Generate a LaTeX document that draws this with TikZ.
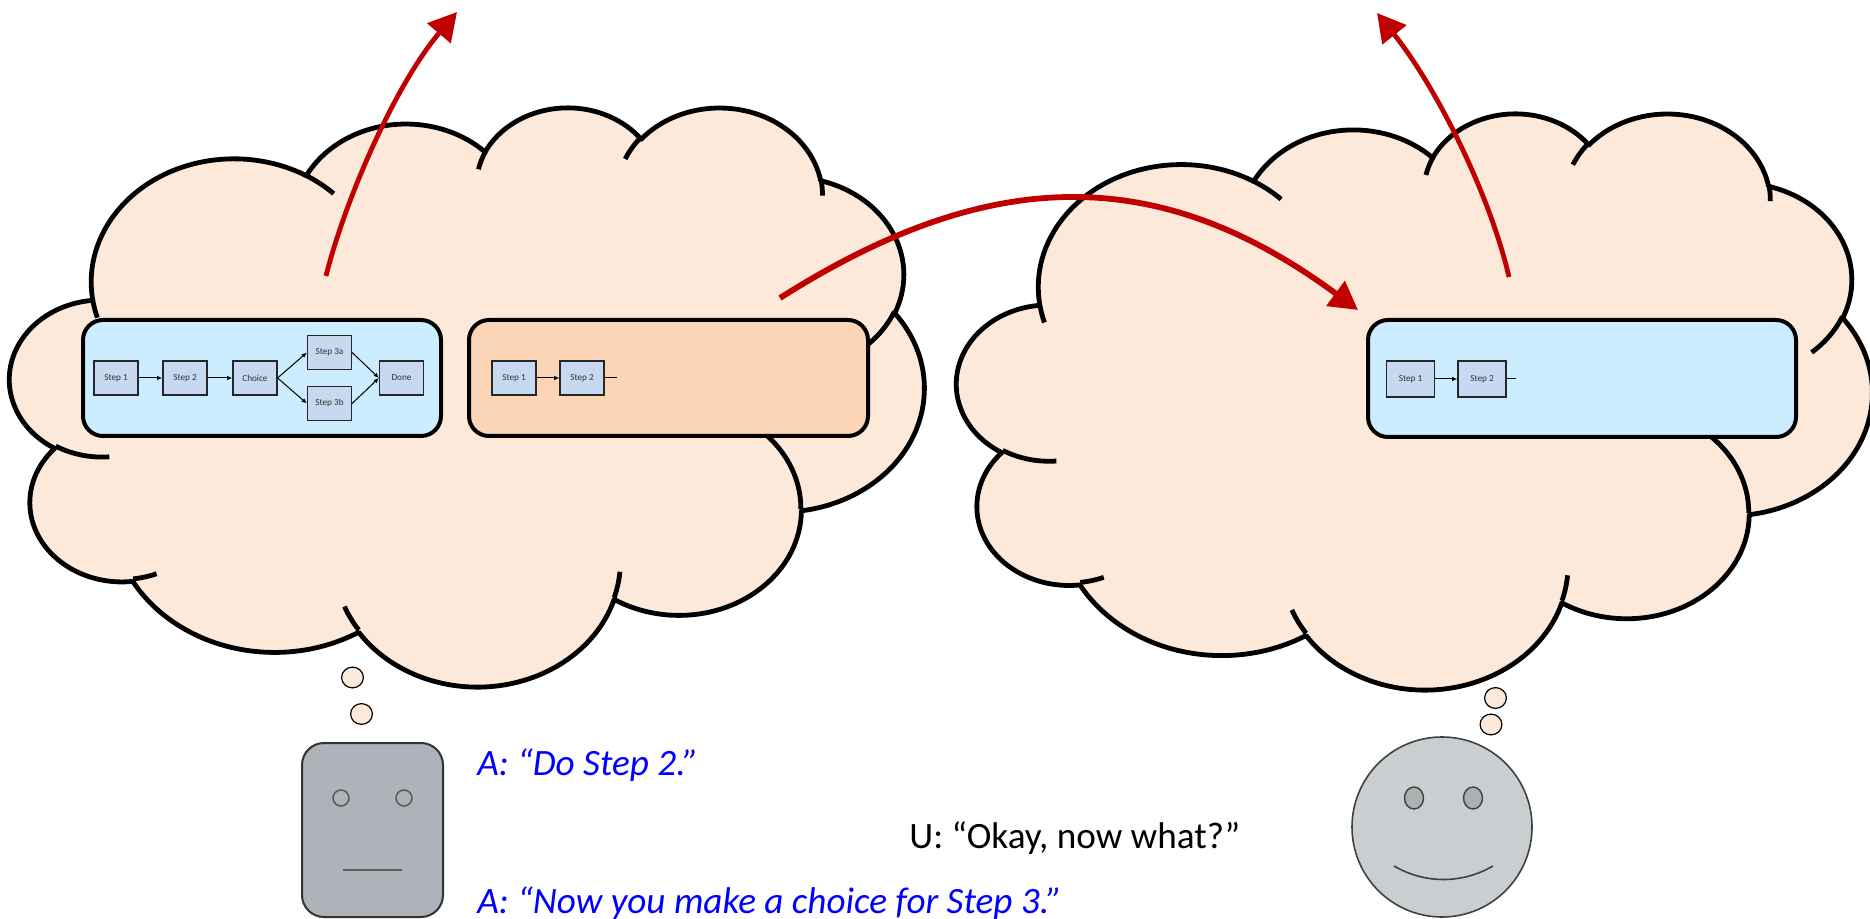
\documentclass[tikz,border=0pt]{standalone}
\usepackage{fontspec}
\setmainfont{Carlito}
\usetikzlibrary{arrows.meta,shapes.geometric}

\definecolor{cloudfill}{HTML}{FDE9D9}
\definecolor{panelblue}{HTML}{CCECFF}
\definecolor{panelorange}{HTML}{FBD5B5}
\definecolor{stepfill}{HTML}{C6D9F1}
\definecolor{arrowred}{HTML}{C00000}
\definecolor{robotgray}{HTML}{ADB3B9}
\definecolor{smilegray}{HTML}{C9CFD0}
\definecolor{eyegray}{HTML}{5A5E62}

% parametric start angle and sweep of one cloud lobe, from its radii and
% its visual start angle and sweep (y axis pointing down)
\newcommand\lobeangles[4]{%
  \pgfmathsetmacro\lobeS{atan2((#1)*sin(#3),(#2)*cos(#3))}%
  \pgfmathsetmacro\lobeE{atan2((#1)*sin((#3)+(#4)),(#2)*cos((#3)+(#4)))}%
  \pgfmathsetmacro\lobeD{mod(\lobeE-\lobeS+720,360)}%
  \global\let\lobeS\lobeS
  \global\let\lobeD\lobeD}
\newcommand\lobe[4]{\pgfextra{\lobeangles{#1}{#2}{#3}{#4}}
  arc[x radius=#1, y radius=#2, start angle=\lobeS, delta angle=\lobeD]}

% cloud outline in a 43.2 x 43.2 frame, placed in the box x0,y0,w,h (px)
\newcommand\thoughtcloud[4]{%
  \pgfmathsetmacro\cloudux{#3/86.4}%
  \pgfmathsetmacro\clouduy{#4/86.4}%
  \begin{scope}[shift={(#1,#2)}, x=\cloudux pt, y=-\clouduy pt]
    \path[cloudbody] (3.900,14.370)
      \lobe{6.753}{9.190}{-190.4875}{123.7805}
      \lobe{5.333}{7.267}{-144.1024}{89.9452}
      \lobe{4.365}{5.945}{-145.8079}{99.7230}
      \lobe{4.857}{6.595}{-130.9861}{117.2417}
      \lobe{5.333}{7.273}{-78.7089}{109.0269}
      \lobe{6.775}{9.220}{-46.2673}{130.2690}
      \lobe{5.785}{7.867}{0.6250}{114.0333}
      \lobe{6.752}{9.215}{22.4516}{115.1726}
      \lobe{7.720}{10.543}{66.2426}{75.7110}
      \lobe{4.360}{5.918}{-274.9421}{146.7356}
      \lobe{4.345}{5.945}{-246.8285}{152.5189}
      -- cycle;
    \foreach \px/\py/\wr/\hr/\st/\sw in {
        4.693/26.177/4.345/5.945/86.7420/26.4295,
        6.928/34.899/4.360/5.918/73.6105/11.4475,
        16.478/39.090/6.752/9.215/137.6242/14.0811,
        28.827/34.751/6.752/9.215/6.4533/15.9984,
        34.129/22.954/5.785/7.867/-70.2924/70.9174,
        41.798/15.354/5.333/7.273/30.3180/27.7515,
        38.324/5.426/4.857/6.595/-13.7443/14.8589,
        29.078/3.952/4.857/6.595/-149.1815/18.1954,
        22.141/4.720/4.365/5.945/-163.4943/17.6864,
        14.000/5.192/6.753/9.190/-66.7070/12.3194,
        4.127/15.789/6.753/9.190/157.6544/11.8582}{
      \lobeangles{\wr}{\hr}{\st}{\sw}
      \draw[cloudedge] (\px,\py)
        arc[x radius=\wr, y radius=\hr, start angle=\lobeS, delta angle=\lobeD];
    }
  \end{scope}}

\begin{document}
\begin{tikzpicture}[x=0.5pt, y=-0.5pt,
  cloudbody/.style={fill=cloudfill, draw=black, line width=2.4pt, line join=round},
  cloudedge/.style={draw=black, line width=2.4pt},
  bubble/.style={ellipse, draw=black, line width=0.6pt, fill=cloudfill,
    minimum width=10.9pt, minimum height=10.4pt, inner sep=0pt},
  panel/.style={draw=black, line width=2pt, rounded corners=10pt, inner sep=0pt,
    minimum height=58pt},
  stepbox/.style={rectangle, draw=black!85, line width=0.6pt, fill=stepfill,
    minimum width=22pt, minimum height=17pt, inner sep=0pt,
    font=\fontsize{4.6}{5}\selectfont, text=black!80},
  flow/.style={draw=black, line width=0.5pt, -{Latex[length=2.6pt,width=2.2pt]}},
  redarrow/.style={draw=arrowred, line width=2.4pt,
    -{Triangle[length=14pt,width=15pt]}},
  speech/.style={anchor=base west, inner sep=0pt, font=\fontsize{18.6}{22}\selectfont},
  agent/.style={speech, text=blue, font=\fontsize{18.6}{22}\selectfont\itshape}]

\useasboundingbox (0,0) rectangle (1870,919);
\fill[white] (0,0) rectangle (1870,919);

% the two thought clouds
\thoughtcloud{10}{106}{914}{579}
\thoughtcloud{957}{112}{915}{576}

% thought bubbles
\node[bubble] (lb1) at (352.5,677.5) {};
\node[bubble] (lb2) at (361.5,714) {};
\node[bubble] (rb1) at (1495.5,698) {};
\node[bubble] (rb2) at (1491,724.5) {};

% plans held in the clouds
\node[panel, fill=panelblue, minimum width=179pt] (planA) at (262,378) {};
\node[panel, fill=panelorange, minimum width=199.5pt] (progA) at (668.5,378) {};
\node[panel, fill=panelblue, minimum width=214pt, minimum height=58.5pt] (planU) at (1582,378.5) {};

% full plan
\node[stepbox] (a1) at (116,378) {Step 1};
\node[stepbox] (a2) at (185,378) {Step 2};
\node[stepbox] (ac) at (255,378) {Choice};
\node[stepbox] (a3a) at (329.5,352.5) {Step 3a};
\node[stepbox] (a3b) at (329.5,403.5) {Step 3b};
\node[stepbox] (ad) at (401.5,378) {Done};
\draw[flow] (a1) -- (a2);
\draw[flow] (a2) -- (ac);
\draw[flow] (ac.east) -- (a3a.west);
\draw[flow] (ac.east) -- (a3b.west);
\draw[flow] (a3a.east) -- (ad.west);
\draw[flow] (a3b.east) -- (ad.west);

% progress so far
\node[stepbox] (p1) at (514,378) {Step 1};
\node[stepbox] (p2) at (582,378) {Step 2};
\coordinate (pend) at (617,378);
\draw[flow] (p1) -- (p2);
\draw[draw=black, line width=0.5pt] (p2) -- (pend);

% the user's plan
\node[stepbox, minimum width=24pt, minimum height=18pt] (u1) at (1410.5,379) {Step 1};
\node[stepbox, minimum width=24pt, minimum height=18pt] (u2) at (1482,379) {Step 2};
\coordinate (uend) at (1516,379);
\draw[flow] (u1) -- (u2);
\draw[draw=black, line width=0.5pt] (u2) -- (uend);

% red arrows
\coordinate (lupS) at (326,276);
\coordinate (lupE) at (457,12);
\coordinate (rupS) at (1509,277);
\coordinate (rupE) at (1377,13);
\coordinate (txS) at (780,298);
\coordinate (txE) at (1358,310);
\draw[redarrow] (lupS) .. controls (345,200) and (395,85) .. (lupE);
\draw[redarrow] (rupS) .. controls (1490,195) and (1437,88) .. (rupE);
\draw[redarrow, line width=2.9pt] (txS) .. controls (985,168) and (1155,160) .. (txE);

% the agent
\node[rectangle, rounded corners=11pt, draw=black!80, line width=1pt, fill=robotgray,
  minimum width=70.5pt, minimum height=87pt] (robot) at (372.5,830) {};
\node[circle, draw=eyegray, line width=0.8pt, minimum size=8pt, inner sep=0pt] (reyeL) at (341,798) {};
\node[circle, draw=eyegray, line width=0.8pt, minimum size=8pt, inner sep=0pt] (reyeR) at (404,798) {};
\draw[eyegray, line width=1pt] (343,870) -- (402,870);

% the user
\node[circle, draw=black!75, line width=0.8pt, fill=smilegray, minimum size=90pt,
  inner sep=0pt] (user) at (1442,827) {};
\node[ellipse, draw=black!75, line width=0.7pt, fill=smilegray!85!black,
  minimum width=9.5pt, minimum height=11pt, inner sep=0pt] (ueyeL) at (1414,798) {};
\node[ellipse, draw=black!75, line width=0.7pt, fill=smilegray!85!black,
  minimum width=9.5pt, minimum height=11pt, inner sep=0pt] (ueyeR) at (1473,798) {};
\draw[black!75, line width=0.8pt] (1394,866) .. controls (1425,884) and (1462,884) .. (1493,866);

% dialogue
\node[agent] (say1) at (477,775) {A: “Do Step 2.”};
\node[speech] (say2) at (909,848) {U: “Okay, now what?”};
\node[agent] (say3) at (477,913) {A: “Now you make a choice for Step 3.”};
\end{tikzpicture}
\end{document}
